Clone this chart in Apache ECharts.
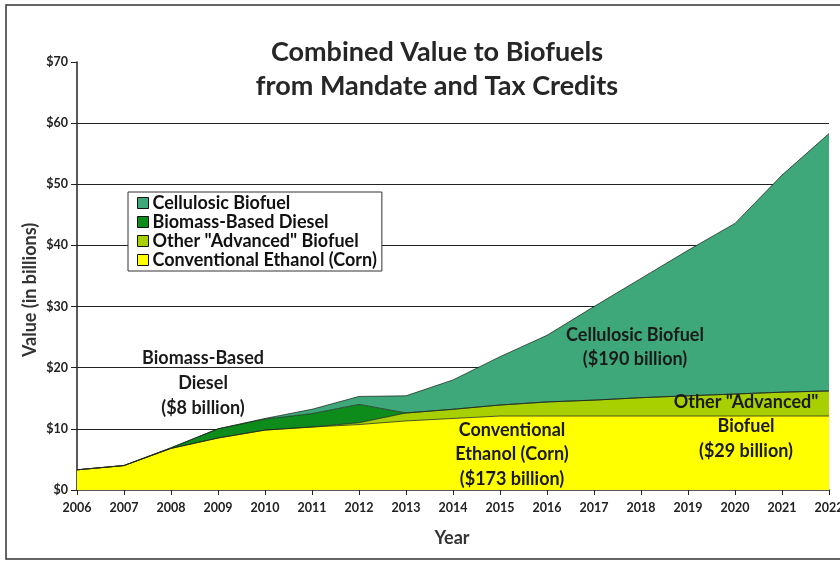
<!DOCTYPE html>
<html>
<head>
<meta charset="utf-8">
<script src="https://cdn.jsdelivr.net/npm/echarts@6/dist/echarts.min.js"></script>
<style>
html,body{margin:0;padding:0;background:#fff;}
#chart{width:840px;height:561px;}
</style>
</head>
<body>
<div id="chart"></div>
<script>
const years = ['2006','2007','2008','2009','2010','2011','2012','2013','2014','2015','2016','2017','2018','2019','2020','2021','2022'];
const cornEthanol   = [3.3, 4.0, 6.8, 8.5, 9.8, 10.3, 10.7, 11.3, 11.7, 12.1, 12.1, 12.1, 12.1, 12.1, 12.1, 12.1, 12.1];
const otherAdvanced = [0, 0, 0, 0, 0, 0, 0.3, 1.3, 1.5, 1.8, 2.3, 2.6, 3.0, 3.3, 3.6, 3.9, 4.1];
const biomassDiesel = [0, 0, 0.1, 1.5, 1.8, 2.2, 3.0, 0, 0, 0, 0, 0, 0, 0, 0, 0, 0];
const cellulosic    = [0, 0, 0, 0, 0.1, 0.7, 1.3, 2.8, 4.8, 7.9, 10.9, 15.3, 19.5, 23.8, 27.9, 35.5, 42.1];
const seriesNames = ['Conventional Ethanol (Corn)', 'Other "Advanced" Biofuel', 'Biomass-Based Diesel', 'Cellulosic Biofuel'];
const legendOrder = ['Cellulosic Biofuel', 'Biomass-Based Diesel', 'Other "Advanced" Biofuel', 'Conventional Ethanol (Corn)'];
const yMin = 0, yMax = 70, yStep = 10;

const FONT = 'Lato';
const colors = ['#FFFF00', '#A8D000', '#0D8C1C', '#3EA87A'];
const values = [cornEthanol, otherAdvanced, biomassDiesel, cellulosic];

function label(text, cx, firstCenter, lh) {
  return {type: 'text', x: cx, y: firstCenter - lh / 2, z: 100, silent: true,
    style: {text: text, textAlign: 'center', textVerticalAlign: 'top',
      font: 'bold 18px Lato', lineHeight: lh, fill: '#1a1a1a'}};
}

const chart = echarts.init(document.getElementById('chart'));
chart.setOption({
  animation: false,
  backgroundColor: '#fff',
  title: {
    text: 'Combined Value to Biofuels\nfrom Mandate and Tax Credits',
    left: 432, top: 30, textAlign: 'center',
    textStyle: {fontFamily: FONT, fontSize: 27, fontWeight: 'bold', color: '#262626', lineHeight: 34}
  },
  grid: {left: 77, right: 11, top: 62, bottom: 71, outerBoundsMode: 'none', containLabel: false},
  legend: {
    orient: 'vertical', left: 128, top: 192,
    data: legendOrder,
    icon: 'rect', itemWidth: 11, itemHeight: 11, itemGap: 1,
    padding: [2, 5, 2, 9],
    borderColor: '#333', borderWidth: 1, backgroundColor: '#fff',
    itemStyle: {borderColor: '#111', borderWidth: 1},
    textStyle: {fontFamily: FONT, fontSize: 18, fontWeight: 'bold', color: '#111', lineHeight: 18, padding: [0,0,0,-1]}
  },
  xAxis: {
    type: 'category', data: years, boundaryGap: false,
    axisLine: {lineStyle: {color: '#222', width: 1.5}},
    axisTick: {show: true, length: 5, lineStyle: {color: '#222'}, alignWithLabel: true},
    axisLabel: {fontFamily: FONT, fontSize: 12.5, fontWeight: 'bold', color: '#222', margin: 11, interval: 0},
    splitLine: {show: false}
  },
  yAxis: {
    type: 'value', min: yMin, max: yMax, interval: yStep,
    axisLine: {show: true, lineStyle: {color: '#222', width: 1.5}},
    axisTick: {show: true, length: 6, lineStyle: {color: '#222'}},
    axisLabel: {fontFamily: FONT, fontSize: 12.5, fontWeight: 'bold', color: '#222', margin: 9,
      formatter: v => '$' + v},
    splitLine: {show: true, showMinLine: false, showMaxLine: false, lineStyle: {color: '#222', width: 1}}
  },
  series: seriesNames.map((n, i) => ({
    name: n, type: 'line', stack: 'total', data: values[i],
    symbol: 'none', smooth: false,
    itemStyle: {color: colors[i]},
    lineStyle: {color: 'rgba(30,40,30,0.75)', width: 1},
    areaStyle: {color: colors[i], opacity: 1}
  })),
  graphic: [
    {type: 'rect', shape: {x: 6, y: 5, width: 900, height: 554}, silent: true, z: -10,
      style: {fill: 'none', stroke: '#333', lineWidth: 1.5}},
    {type: 'text', x: 30, y: 290, rotation: Math.PI / 2, z: 100, silent: true,
      style: {text: 'Value (in billions)', textAlign: 'center', textVerticalAlign: 'middle',
        font: 'bold 18px Lato', fill: '#333'}},
    {type: 'text', x: 452, y: 538, z: 100, silent: true,
      style: {text: 'Year', textAlign: 'center', textVerticalAlign: 'middle',
        font: 'bold 18px Lato', fill: '#333'}},
    label('Biomass-Based\nDiesel\n($8 billion)', 203, 358, 25),
    label('Cellulosic Biofuel\n($190 billion)', 635, 335, 24),
    label('Conventional\nEthanol (Corn)\n($173 billion)', 512, 430, 24.5),
    label('Other "Advanced"\nBiofuel\n($29 billion)', 746, 402, 24.5)
  ]
});
</script>
</body>
</html>
